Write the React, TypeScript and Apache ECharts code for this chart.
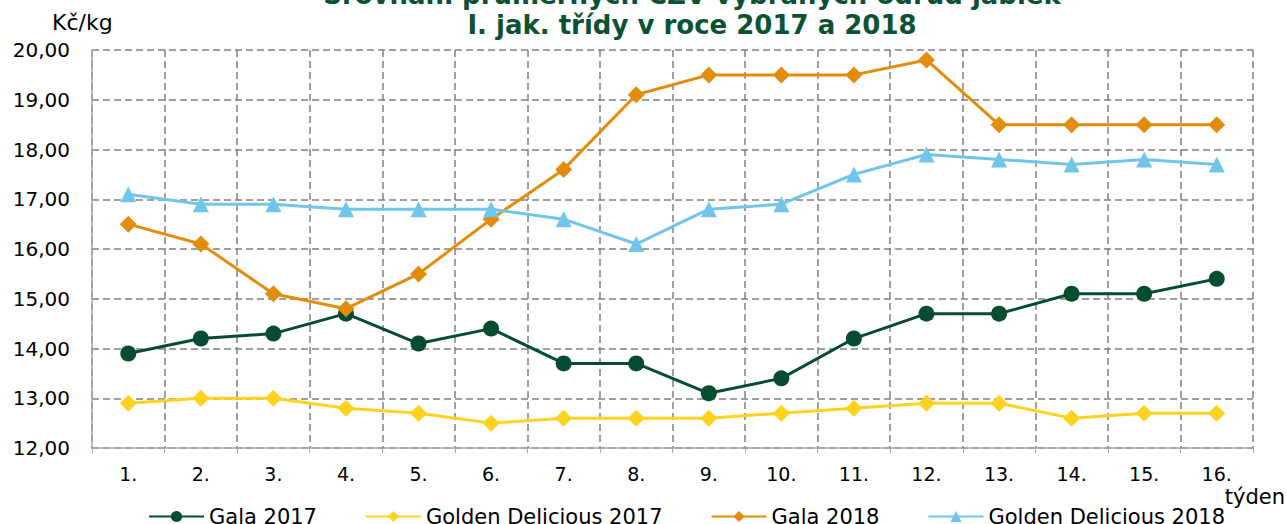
import React, { useEffect, useRef } from "react";
import * as echarts from "echarts";

const weeks = ["1.", "2.", "3.", "4.", "5.", "6.", "7.", "8.", "9.", "10.", "11.", "12.", "13.", "14.", "15.", "16."];
const gala2017 = [13.9, 14.2, 14.3, 14.7, 14.1, 14.4, 13.7, 13.7, 13.1, 13.4, 14.2, 14.7, 14.7, 15.1, 15.1, 15.4];
const golden2017 = [12.9, 13.0, 13.0, 12.8, 12.7, 12.5, 12.6, 12.6, 12.6, 12.7, 12.8, 12.9, 12.9, 12.6, 12.7, 12.7];
const gala2018 = [16.5, 16.1, 15.1, 14.8, 15.5, 16.6, 17.6, 19.1, 19.5, 19.5, 19.5, 19.8, 18.5, 18.5, 18.5, 18.5];
const golden2018 = [17.1, 16.9, 16.9, 16.8, 16.8, 16.8, 16.6, 16.1, 16.8, 16.9, 17.5, 17.9, 17.8, 17.7, 17.8, 17.7];

const titleLine1 = "Srovnání průměrných CZV vybraných odrůd jablek";
const titleLine2 = "I. jak. třídy v roce 2017 a 2018";
const unitLabel = "Kč/kg";
const xName = "týden";

const FONT = "'DejaVu Sans', Verdana, sans-serif";

export default function App() {
  const ref = useRef<HTMLDivElement>(null);
  useEffect(() => {
    document.body.style.margin = "0";
    if (!ref.current) return;
    const chart = echarts.init(ref.current, null, { renderer: "svg" });
    const mk = (name: string, data: number[], color: string, symbol: string, size: number) => ({
      name,
      type: "line",
      data,
      symbol,
      symbolSize: size,
      lineStyle: { color, width: 3 },
      itemStyle: { color },
      color,
    });
    chart.setOption({
      animation: false,
      textStyle: { fontFamily: FONT },
      grid: { left: 92, right: 34, top: 50, bottom: 76, containLabel: false },
      graphic: [
        { type: "text", x: 692, y: -5, style: { text: titleLine1, fill: "#0b5234", font: `bold 26px ${FONT}`, textAlign: "center", textVerticalAlign: "middle" } },
        { type: "text", x: 692, y: 25, style: { text: titleLine2, fill: "#0b5234", font: `bold 26px ${FONT}`, textAlign: "center", textVerticalAlign: "middle" } },
        { type: "text", x: 52, y: 22, style: { text: unitLabel, fill: "#000", font: `22px ${FONT}`, textVerticalAlign: "middle" } },
        { type: "text", x: 1285, y: 497, style: { text: xName, fill: "#000", font: `21px ${FONT}`, textAlign: "right", textVerticalAlign: "middle" } },
      ],
      legend: {
        top: 501,
        left: 143,
        itemWidth: 55,
        itemHeight: 14,
        itemGap: 48,
        textStyle: { fontSize: 21, color: "#000", fontFamily: FONT },
        data: ["Gala 2017", "Golden Delicious 2017", "Gala 2018", "Golden Delicious 2018"],
      },
      xAxis: {
        type: "category",
        data: weeks,
        boundaryGap: true,
        axisLine: { show: true, lineStyle: { color: "#a6a6a6", width: 1.5 } },
        axisTick: { show: true, length: 5, lineStyle: { color: "#a6a6a6" } },
        axisLabel: { color: "#000", fontSize: 19, margin: 16, fontFamily: FONT },
        splitLine: { show: true, lineStyle: { color: "#808080", type: [7, 4], width: 1.5 } },
      },
      yAxis: {
        type: "value",
        min: 12,
        max: 20,
        interval: 1,
        axisLine: { show: true, lineStyle: { color: "#a6a6a6", width: 1.5 } },
        axisTick: { show: false },
        axisLabel: {
          color: "#000",
          fontSize: 20,
          margin: 22,
          fontFamily: FONT,
          formatter: (v: number) => v.toFixed(2).replace(".", ","),
        },
        splitLine: { show: true, lineStyle: { color: "#808080", type: [7, 4], width: 1.5 } },
      },
      series: [
        mk("Gala 2017", gala2017, "#064d2f", "circle", 16),
        mk("Golden Delicious 2017", golden2017, "#ffd21f", "diamond", 17),
        mk("Gala 2018", gala2018, "#e38c0c", "diamond", 17),
        mk("Golden Delicious 2018", golden2018, "#70c5ea", "triangle", 16),
      ],
    });
    return () => chart.dispose();
  }, []);
  return <div ref={ref} style={{ width: 1287, height: 524 }} />;
}
